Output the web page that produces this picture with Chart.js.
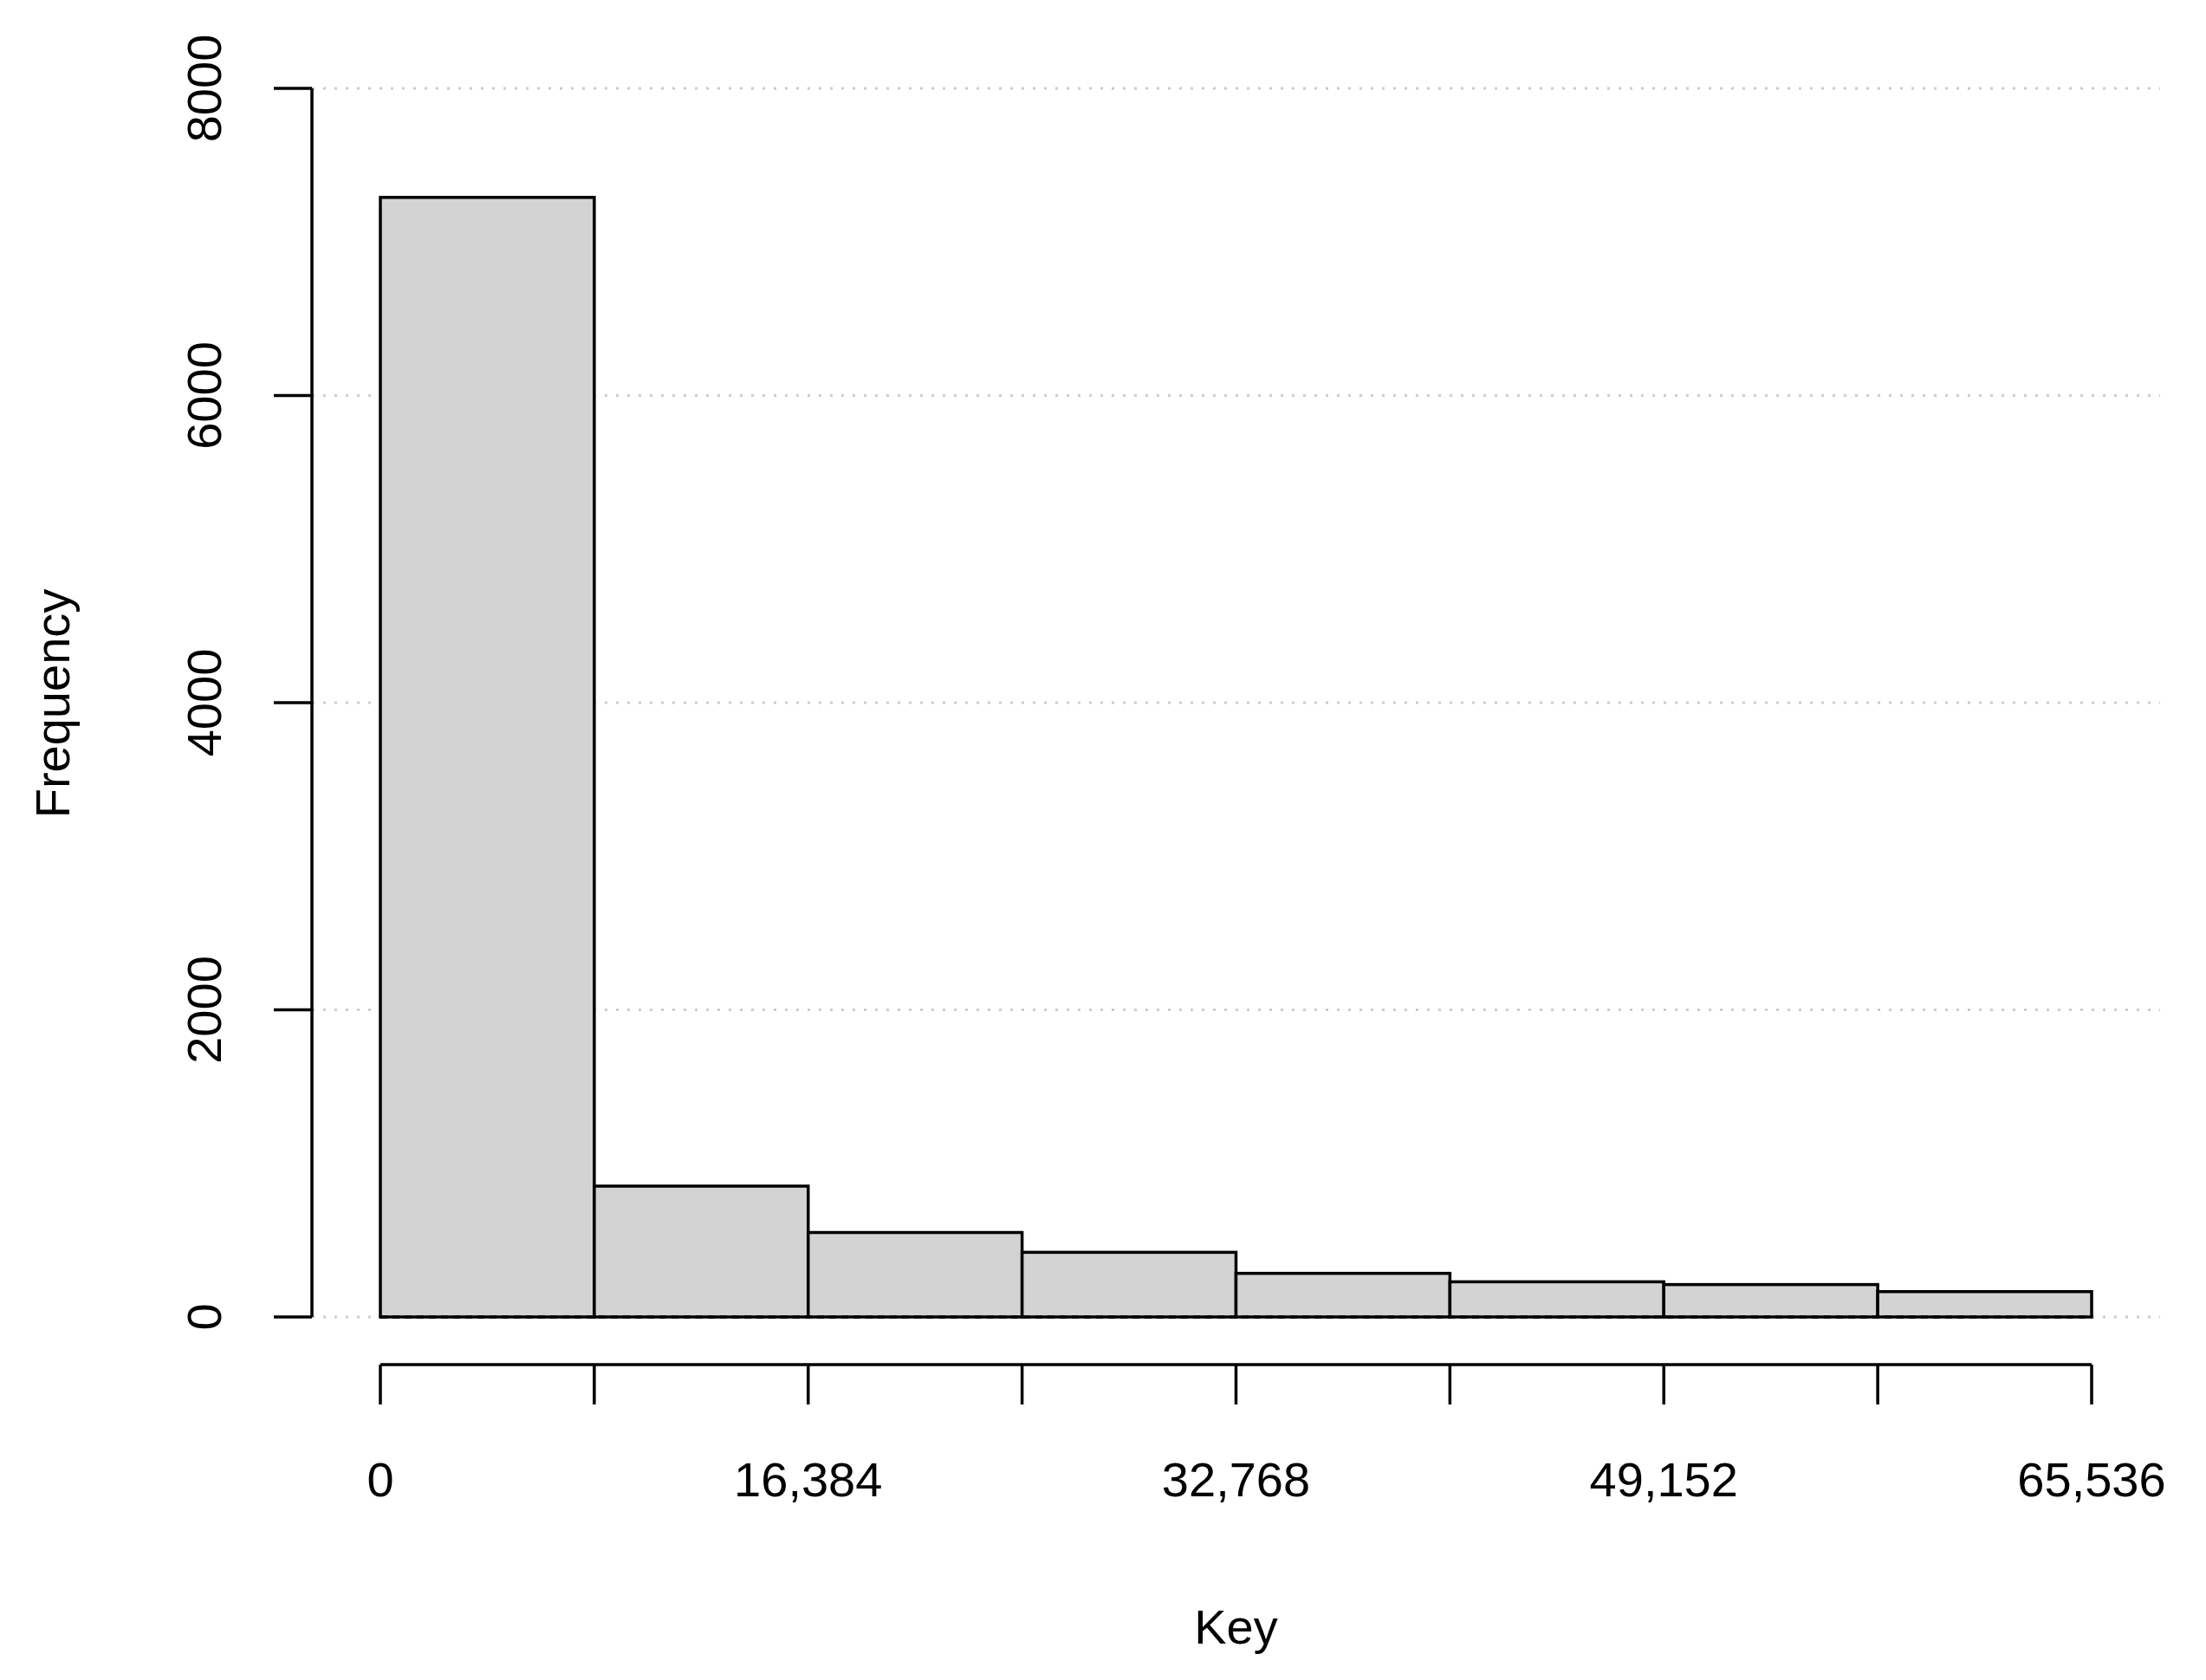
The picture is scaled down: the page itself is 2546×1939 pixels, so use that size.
<!DOCTYPE html>
<html><head><meta charset="utf-8">
<script src="https://cdn.jsdelivr.net/npm/chart.js@4"></script>
<style>body{margin:0;background:#fff}canvas{display:block}</style>
</head><body>
<canvas id="c" width="2546" height="1939"></canvas>
<script>
const binEdges = [0, 8192, 16384, 24576, 32768, 40960, 49152, 57344, 65536];
const binCenters = [4096, 12288, 20480, 28672, 36864, 45056, 53248, 61440];
const frequencies = [7290, 852, 550, 421, 284, 229, 211, 165];
const xTickLabels = [0, 16384, 32768, 49152, 65536];
const yTickValues = [0, 2000, 4000, 6000, 8000];
const FONT = '56px "Liberation Sans", Arial, sans-serif';

const histPlugin = {
  id: 'hist',
  beforeDatasetsDraw(chart) {
    const ctx = chart.ctx, xs = chart.scales.x, ys = chart.scales.y, ca = chart.chartArea;
    ctx.save();
    // dotted grid
    ctx.strokeStyle = '#cccccc'; ctx.lineWidth = 3; ctx.setLineDash([3, 10]);
    yTickValues.forEach(v => { const p = ys.getPixelForValue(v);
      ctx.beginPath(); ctx.moveTo(ca.left, p); ctx.lineTo(ca.right, p); ctx.stroke(); });
    ctx.setLineDash([]);
    // bars
    ctx.fillStyle = '#d3d3d3'; ctx.strokeStyle = '#000'; ctx.lineWidth = 3.5;
    frequencies.forEach((f, i) => {
      const x0 = xs.getPixelForValue(binEdges[i]), x1 = xs.getPixelForValue(binEdges[i+1]);
      const y0 = ys.getPixelForValue(0), y1 = ys.getPixelForValue(f);
      ctx.fillRect(x0, y1, x1 - x0, y0 - y1);
      ctx.strokeRect(x0, y1, x1 - x0, y0 - y1);
    });
    ctx.restore();
  },
  afterDatasetsDraw(chart) {
    const ctx = chart.ctx, xs = chart.scales.x, ys = chart.scales.y;
    ctx.save();
    ctx.strokeStyle = '#000'; ctx.fillStyle = '#000'; ctx.lineWidth = 3.5;
    ctx.setLineDash([8, 6]);
    ctx.beginPath();
    ctx.moveTo(xs.getPixelForValue(binEdges[0]), ys.getPixelForValue(0));
    ctx.lineTo(xs.getPixelForValue(binEdges[binEdges.length-1]), ys.getPixelForValue(0));
    ctx.stroke();
    ctx.setLineDash([]);
    const ay = 1575;
    ctx.beginPath();
    ctx.moveTo(xs.getPixelForValue(binEdges[0]), ay);
    ctx.lineTo(xs.getPixelForValue(binEdges[binEdges.length-1]), ay);
    binEdges.forEach(v => { const p = xs.getPixelForValue(v); ctx.moveTo(p, ay); ctx.lineTo(p, ay + 46); });
    ctx.stroke();
    ctx.font = FONT; ctx.textAlign = 'center'; ctx.textBaseline = 'middle';
    xTickLabels.forEach(v => ctx.fillText(v.toLocaleString('en-US'), xs.getPixelForValue(v), 1712));
    ctx.fillText('Key', xs.getPixelForValue(32768), 1882);
    const ax = chart.chartArea.left;
    ctx.beginPath();
    ctx.moveTo(ax, ys.getPixelForValue(yTickValues[0]));
    ctx.lineTo(ax, ys.getPixelForValue(yTickValues[yTickValues.length-1]));
    yTickValues.forEach(v => { const p = ys.getPixelForValue(v); ctx.moveTo(ax, p); ctx.lineTo(ax - 44, p); });
    ctx.stroke();
    yTickValues.forEach(v => {
      ctx.save(); ctx.translate(240, ys.getPixelForValue(v)); ctx.rotate(-Math.PI/2);
      ctx.fillText(String(v), 0, 0); ctx.restore();
    });
    ctx.save(); ctx.translate(65, 812); ctx.rotate(-Math.PI/2);
    ctx.fillText('Frequency', 0, 0); ctx.restore();
    ctx.restore();
  }
};

new Chart(document.getElementById('c'), {
  type: 'bar',
  data: { datasets: [{
    data: binCenters.map((x, i) => ({ x, y: frequencies[i] })),
    backgroundColor: 'rgba(0,0,0,0)', borderColor: 'rgba(0,0,0,0)', borderWidth: 0
  }]},
  options: {
    responsive: false, animation: false, devicePixelRatio: 1,
    layout: { padding: { left: 360, right: 53, top: 102, bottom: 419 } },
    plugins: { legend: { display: false }, tooltip: { enabled: false } },
    scales: {
      x: { type: 'linear', min: -2621, max: 68157, offset: false, display: false },
      y: { min: 0, max: 8000, display: false }
    }
  },
  plugins: [histPlugin]
});
</script>
</body></html>
